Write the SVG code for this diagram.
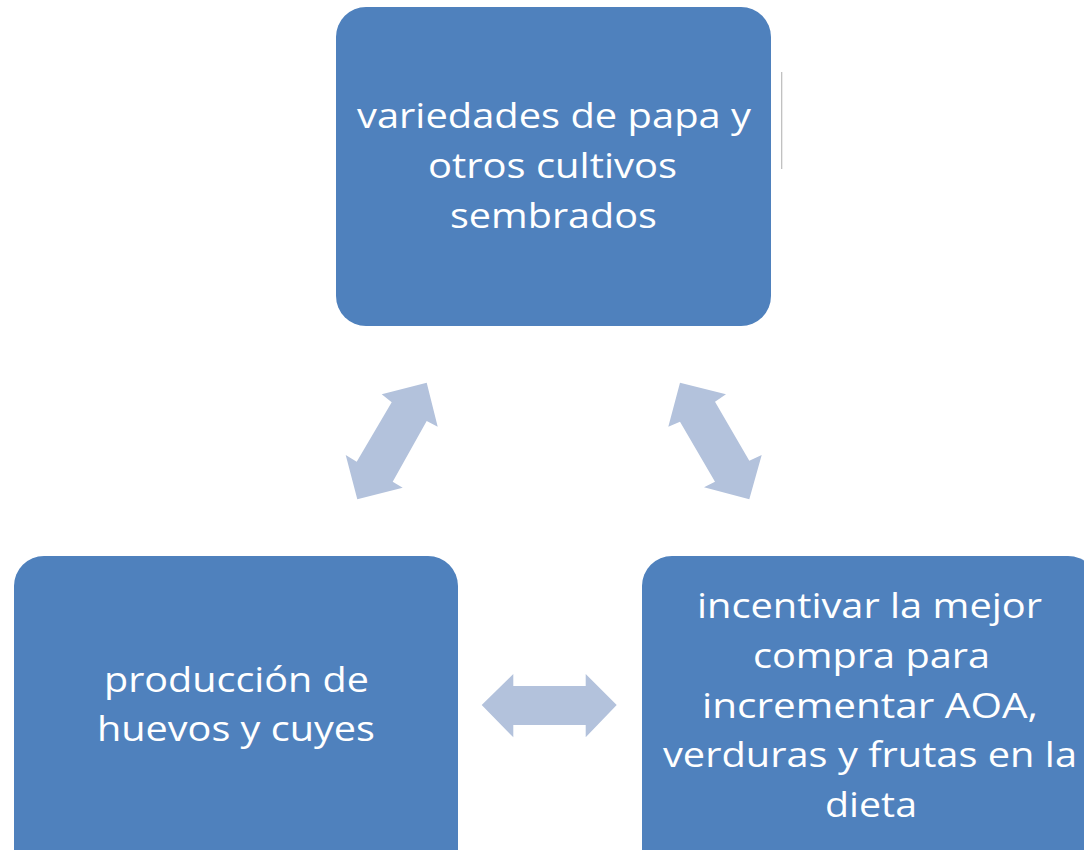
<svg xmlns="http://www.w3.org/2000/svg" width="1084" height="850" viewBox="0 0 1084 850">
<style>
.box{fill:#4F81BD;}
.arr{fill:#B3C2DC;}
.t{font-family:"Open Sans","Noto Sans","Liberation Sans",sans-serif;font-size:35px;fill:#FFFFFF;text-anchor:middle;}
</style>
<rect width="1084" height="850" fill="#FFFFFF"/>
<line x1="781.7" y1="72" x2="781.7" y2="169" stroke="#BBBBBB" stroke-width="1.2"/>
<g id="connectors">
<polygon class="arr" points="426.7,382.7 437.7,426.7 426.7,421 392.7,481.7 402.7,487.7 357.3,499.3 345.7,455 356.7,461.7 391.7,402.3 381.7,394.3"/>
<polygon class="arr" points="680,382.7 726,394.3 715,401.7 749.3,460.7 761.7,455 749.3,499.3 704,487.3 715,481.7 680,421.7 668.3,426.7"/>
<polygon class="arr" points="481.7,705 513.3,674 513.3,686 585.7,686 585.7,674 616.7,705 585.7,737.3 585.7,725 513.3,725 513.3,737.3"/>
</g>
<g id="node-top">
<rect class="box" x="336" y="7" width="435" height="319" rx="30" ry="30"/>
<text class="t" x="554" y="128" textLength="394" lengthAdjust="spacingAndGlyphs">variedades de papa y</text>
<text class="t" x="552.5" y="178" textLength="249" lengthAdjust="spacingAndGlyphs">otros cultivos</text>
<text class="t" x="553.5" y="228" textLength="207" lengthAdjust="spacingAndGlyphs">sembrados</text>
</g>
<g id="node-left">
<rect class="box" x="14" y="556" width="444" height="330" rx="30" ry="30"/>
<text class="t" x="236.5" y="692" textLength="265" lengthAdjust="spacingAndGlyphs">producción de</text>
<text class="t" x="236" y="741" textLength="278" lengthAdjust="spacingAndGlyphs">huevos y cuyes</text>
</g>
<g id="node-right">
<rect class="box" x="642" y="556" width="456" height="330" rx="30" ry="30"/>
<text class="t" x="869.5" y="618" textLength="345" lengthAdjust="spacingAndGlyphs">incentivar la mejor</text>
<text class="t" x="871.5" y="668" textLength="237" lengthAdjust="spacingAndGlyphs">compra para</text>
<text class="t" x="870" y="718" textLength="336" lengthAdjust="spacingAndGlyphs">incrementar AOA,</text>
<text class="t" x="870" y="767" textLength="414" lengthAdjust="spacingAndGlyphs">verduras y frutas en la</text>
<text class="t" x="871" y="817" textLength="92" lengthAdjust="spacingAndGlyphs">dieta</text>
</g>
</svg>
